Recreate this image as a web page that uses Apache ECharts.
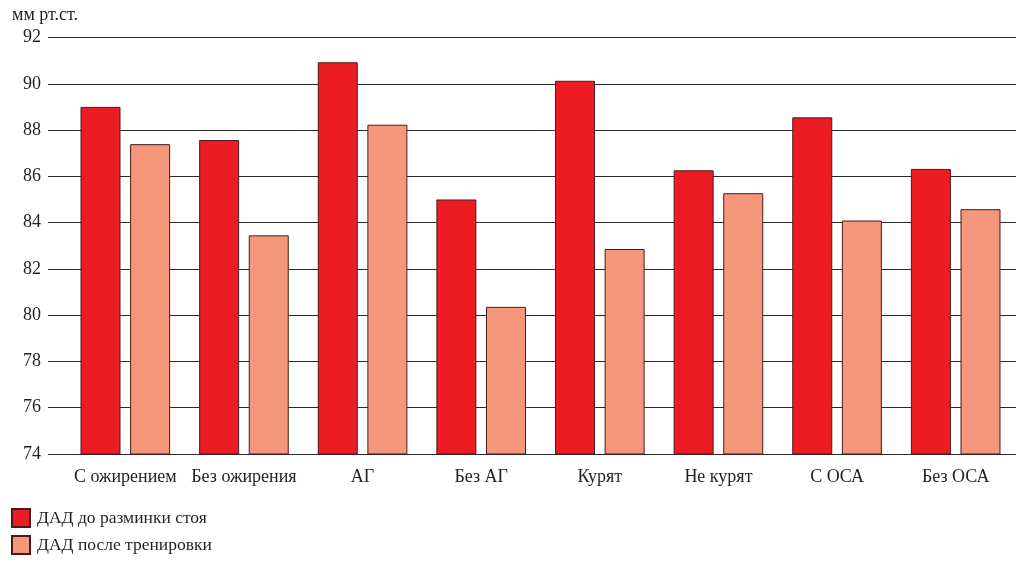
<!DOCTYPE html>
<html>
<head>
<meta charset="utf-8">
<script src="https://cdn.jsdelivr.net/npm/echarts@6/dist/echarts.min.js"></script>
<style>
html,body{margin:0;padding:0;background:#fff;}
#chart{width:1018px;height:562px;}
</style>
</head>
<body>
<div id="chart"></div>
<script>
var categories = ['С ожирением','Без ожирения','АГ','Без АГ','Курят','Не курят','С ОСА','Без ОСА'];
var seriesNames = ['ДАД до разминки стоя','ДАД после тренировки'];
var before = [89.0, 87.57, 90.93, 85.0, 90.13, 86.26, 88.55, 86.32];
var after = [87.39, 83.45, 88.23, 80.36, 82.86, 85.27, 84.09, 84.58];
var yTicks = {min: 74, max: 92, interval: 2};
var unitLabel = 'мм рт.ст.';

var FONT = '"Liberation Serif", "DejaVu Serif", serif';
var TXT = '#231f20';
var chart = echarts.init(document.getElementById('chart'), null, {renderer: 'canvas'});
chart.setOption({
  animation: false,
  backgroundColor: '#fff',
  title: {
    text: unitLabel, left: 7, top: 1,
    textStyle: {fontFamily: FONT, fontSize: 18, fontWeight: 'normal', color: TXT}
  },
  legend: {
    orient: 'vertical', left: 11, top: 508, padding: 0, height: 54,
    itemWidth: 18, itemHeight: 18, itemGap: 7, icon: 'rect',
    textStyle: {fontFamily: FONT, fontSize: 17.5, color: TXT, padding: [0, 0, 0, 2]},
    data: seriesNames
  },
  grid: [
    {left: 48, right: 2, top: 37.5, bottom: 108},
    {left: 66, right: 3, top: 37.5, bottom: 108}
  ],
  xAxis: [
    {gridIndex: 0, type: 'value', show: false, min: 0, max: 1},
    {
      gridIndex: 1, type: 'category', data: categories,
      axisLine: {show: false}, axisTick: {show: false},
      axisLabel: {fontFamily: FONT, fontSize: 18, color: TXT, margin: 14, interval: 0}
    }
  ],
  yAxis: [
    {
      gridIndex: 0, type: 'value', min: yTicks.min, max: yTicks.max, interval: yTicks.interval,
      axisLine: {show: false}, axisTick: {show: false},
      axisLabel: {fontFamily: FONT, fontSize: 18, color: TXT, margin: 7},
      splitLine: {show: true, lineStyle: {color: '#2a2a2a', width: 1}}
    },
    {gridIndex: 1, type: 'value', min: yTicks.min, max: yTicks.max, interval: yTicks.interval, show: false, splitLine: {show: false}}
  ],
  series: [
    {
      name: seriesNames[0], type: 'bar', xAxisIndex: 1, yAxisIndex: 1,
      data: before, barWidth: 40, barGap: '24%',
      itemStyle: {color: '#ED1C24', borderColor: '#4a1a1a', borderWidth: 1}
    },
    {
      name: seriesNames[1], type: 'bar', xAxisIndex: 1, yAxisIndex: 1,
      data: after, barWidth: 40, barGap: '24%',
      itemStyle: {color: '#F5977A', borderColor: '#4a1a1a', borderWidth: 1}
    }
  ]
});
</script>
</body>
</html>
